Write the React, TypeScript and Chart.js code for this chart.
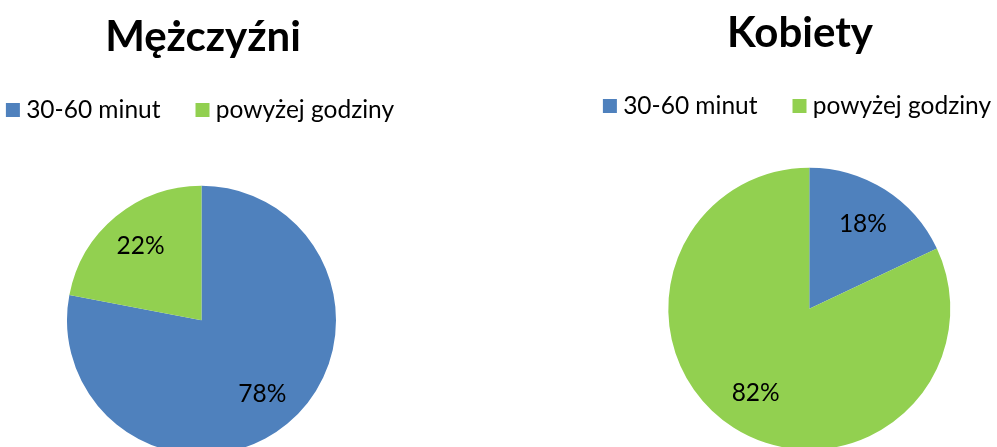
import React, { useEffect, useRef } from 'react';
import { Chart, registerables } from 'chart.js';

Chart.register(...registerables);

const categories = ['30-60 minut', 'powyżej godziny'];
const menValues = [78, 22];
const womenValues = [18, 82];
const chartTitles = ['Mężczyźni', 'Kobiety'];
const sliceColors = ['#4F81BD', '#92D050'];

const FONT = 'Lato, "Noto Sans", sans-serif';

const pctLabels = {
  id: 'pctLabels',
  afterDatasetsDraw(chart: any) {
    const ctx = chart.ctx;
    const meta = chart.getDatasetMeta(0);
    const data = chart.data.datasets[0].data as number[];
    ctx.save();
    ctx.font = `24.5px ${FONT}`;
    ctx.fillStyle = '#000';
    ctx.textAlign = 'center';
    ctx.textBaseline = 'middle';
    meta.data.forEach((arc: any, i: number) => {
      const { x, y, startAngle, endAngle, outerRadius } = arc.getProps(
        ['x', 'y', 'startAngle', 'endAngle', 'outerRadius'],
        true
      );
      const mid = (startAngle + endAngle) / 2;
      const d = outerRadius * 0.71;
      ctx.fillText(`${data[i]}%`, x + Math.cos(mid) * d, y + Math.sin(mid) * d);
    });
    ctx.restore();
  },
};

type PieProps = {
  title: string;
  values: number[];
  radius: number;
  left: number;
  top: number;
  width: number;
  height: number;
  shift: number;
};

function PieBox({ title, values, radius, left, top, width, height, shift }: PieProps) {
  const ref = useRef<HTMLCanvasElement | null>(null);
  useEffect(() => {
    if (!ref.current) return;
    const pad = Math.max((Math.abs(shift) - 2) / 2, 0);
    const chart = new Chart(ref.current, {
      type: 'pie',
      data: {
        labels: categories,
        datasets: [
          {
            data: values,
            backgroundColor: sliceColors,
            borderWidth: 0,
          },
        ],
      },
      options: {
        responsive: false,
        animation: false,
        events: [],
        radius,
        layout: { padding: 0 },
        plugins: {
          title: {
            display: true,
            text: title,
            color: '#000',
            font: { family: FONT, size: 42, weight: 'bold', lineHeight: 0.9 },
            padding: { top: 19, bottom: 0 },
          },
          subtitle: {
            display: shift !== 0,
            position: shift > 0 ? 'left' : 'right',
            fullSize: false,
            text: ' ',
            font: { size: 2, lineHeight: 1 },
            padding: { top: pad, bottom: pad },
          },
          legend: {
            position: 'top',
            labels: {
              usePointStyle: true,
              pointStyle: 'rect',
              boxWidth: 2,
              boxHeight: 14,
              padding: 41,
              color: '#000',
              font: { family: FONT, size: 24.5 },
            },
          },
          tooltip: { enabled: false },
        },
      } as any,
      plugins: [pctLabels],
    });
    return () => chart.destroy();
  }, [title, values, radius, shift]);

  return (
    <canvas
      ref={ref}
      width={width}
      height={height}
      style={{ position: 'absolute', left, top, width, height }}
    />
  );
}

export default function App() {
  return (
    <div
      style={{
        position: 'fixed',
        left: 0,
        top: 0,
        width: 997,
        height: 447,
        overflow: 'hidden',
        background: '#fff',
      }}
    >
      <PieBox title={chartTitles[0]} values={menValues} radius={134.5} left={-37} top={0} width={480} height={508} shift={-3} />
      <PieBox title={chartTitles[1]} values={womenValues} radius={141} left={560} top={-4} width={480} height={493} shift={18.6} />
    </div>
  );
}
